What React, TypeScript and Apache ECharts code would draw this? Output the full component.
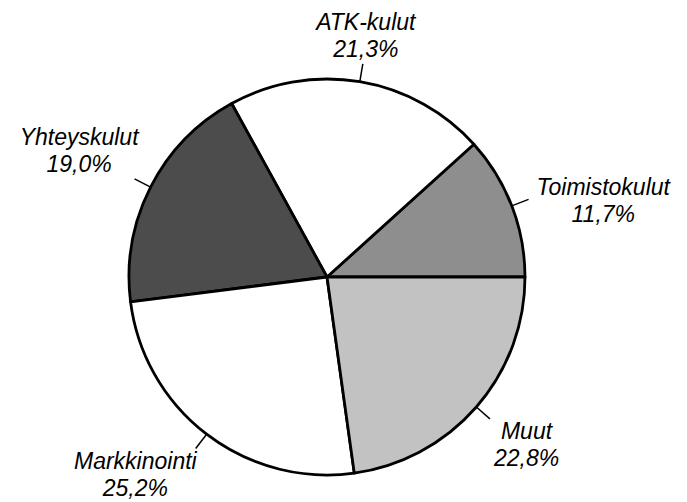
import React, { useEffect, useRef } from "react";
import * as echarts from "echarts";

const categories = ["Toimistokulut", "ATK-kulut", "Yhteyskulut", "Markkinointi", "Muut"];
const shares = [11.7, 21.3, 19.0, 25.2, 22.8];
const sliceColors = ["#8e8e8e", "#ffffff", "#4c4c4c", "#ffffff", "#c2c2c2"];
const labelPlacements = ["right", "above", "upLeft", "downLeft", "downRight"];
const titleText = "(kulut jaoteltuina)";

export default function App() {
  const ref = useRef<HTMLDivElement>(null);
  useEffect(() => {
    if (!ref.current) return;
    const chart = echarts.init(ref.current, null, { renderer: "svg" });
    const fmt = (v: number) => v.toFixed(1).replace(".", ",") + "%";
    chart.setOption({
      animation: false,
      backgroundColor: "#ffffff",
      graphic: [
        {
          type: "text",
          x: 150,
          y: -35,
          style: {
            text: titleText,
            font: 'bold 30px "Liberation Sans"',
            fill: "#000",
            verticalAlign: "top",
          },
        },
      ],
      series: [
        {
          type: "pie",
          center: [327, 277],
          radius: 198,
          startAngle: 0,
          clockwise: false,
          avoidLabelOverlap: false,
          itemStyle: { borderColor: "#000", borderWidth: 2.8 },
          label: {
            show: true,
            position: "outside",
            overflow: "none",
            color: "#000",
            fontFamily: "Liberation Sans",
            fontStyle: "italic",
            fontSize: 23,
            lineHeight: 27,
            formatter: (p: any) => `${p.name}\n${fmt(p.value)}`,
          },
          labelLine: {
            show: true,
            length: 18,
            length2: 0,
            smooth: false,
            lineStyle: { color: "#000", width: 1.5 },
          },
          labelLayout: (p: any) => {
            const pts = p.labelLinePoints;
            if (!pts) return {};
            const end = pts[pts.length - 1];
            const ex = end[0];
            const ey = end[1];
            const w = p.labelRect.width;
            const pl = labelPlacements[p.dataIndex];
            let x = ex;
            let y = ey;
            let verticalAlign = "middle";
            if (pl === "right") {
              x = ex + 8 + w / 2;
              y = ey + 1;
              verticalAlign = "middle";
            } else if (pl === "above") {
              x = ex + 3;
              y = ey - 1;
              verticalAlign = "bottom";
            } else if (pl === "upLeft") {
              x = ex + 4 - w / 2;
              y = ey - 1;
              verticalAlign = "bottom";
            } else if (pl === "downLeft") {
              x = ex + 1 - w / 2;
              y = ey - 1;
              verticalAlign = "top";
            } else if (pl === "downRight") {
              x = ex + 4 + w / 2;
              y = ey - 1;
              verticalAlign = "top";
            }
            return { x, y, align: "center", verticalAlign, labelLinePoints: pts };
          },
          data: categories.map((name, i) => ({
            name,
            value: shares[i],
            itemStyle: { color: sliceColors[i] },
          })),
        },
      ],
    });
    return () => chart.dispose();
  }, []);
  return (
    <div
      ref={ref}
      style={{ position: "fixed", left: 0, top: 0, width: 687, height: 502 }}
    />
  );
}
